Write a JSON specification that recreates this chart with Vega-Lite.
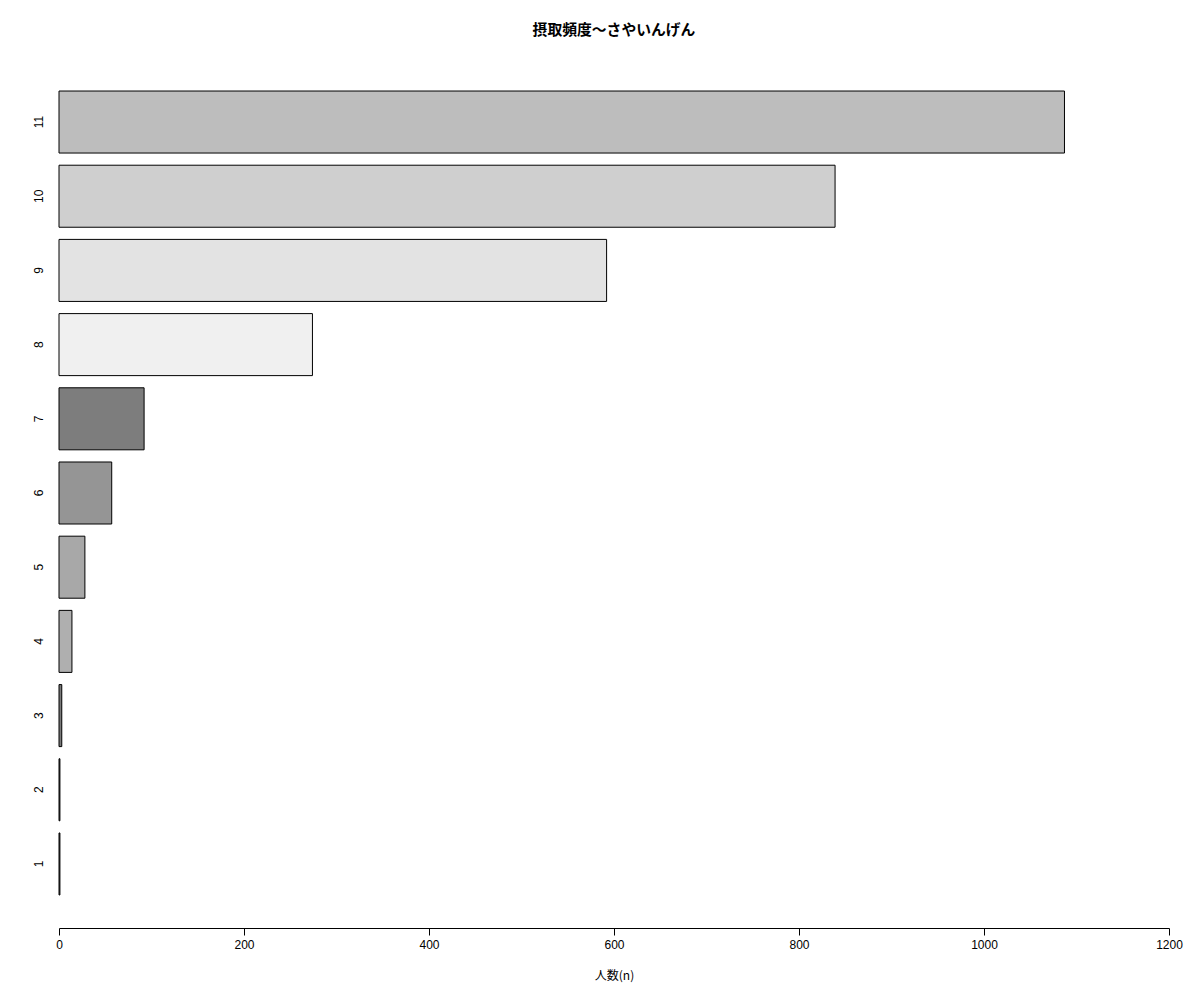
{
  "$schema": "https://vega.github.io/schema/vega-lite/v6.json",
  "autosize": "none",
  "width": 1110,
  "height": 870,
  "padding": {"left": 59, "top": 58, "right": 31, "bottom": 72},
  "background": "white",
  "config": {"view": {"stroke": null}},
  "title": {
    "text": "摂取頻度〜さやいんげん",
    "font": "Noto Sans CJK JP",
    "fontSize": 14.8,
    "fontWeight": "bold",
    "color": "black",
    "anchor": "middle",
    "offset": 20
  },
  "data": {
    "values": [
      {"k": "1", "n": 1},
      {"k": "2", "n": 1},
      {"k": "3", "n": 3},
      {"k": "4", "n": 14},
      {"k": "5", "n": 28},
      {"k": "6", "n": 57},
      {"k": "7", "n": 92},
      {"k": "8", "n": 274},
      {"k": "9", "n": 592},
      {"k": "10", "n": 839},
      {"k": "11", "n": 1087}
    ]
  },
  "mark": {"type": "bar", "stroke": "black", "strokeWidth": 1, "cornerRadius": 0},
  "encoding": {
    "y": {
      "field": "k",
      "type": "ordinal",
      "sort": ["11", "10", "9", "8", "7", "6", "5", "4", "3", "2", "1"],
      "scale": {"paddingInner": 0.164, "paddingOuter": 0.445},
      "axis": {
        "title": null,
        "domain": false,
        "ticks": false,
        "labelAngle": 270,
        "labelAlign": "center",
        "labelBaseline": "bottom",
        "labelPadding": 14,
        "labelFont": "Liberation Sans",
        "labelFontSize": 12,
        "labelColor": "black"
      }
    },
    "x": {
      "field": "n",
      "type": "quantitative",
      "scale": {"domain": [0, 1200], "nice": false, "zero": true},
      "axis": {
        "title": "人数(n)",
        "values": [0, 200, 400, 600, 800, 1000, 1200],
        "format": "d",
        "grid": false,
        "domainColor": "black",
        "tickColor": "black",
        "tickSize": 7,
        "labelFont": "Liberation Sans",
        "labelFontSize": 12,
        "labelColor": "black",
        "labelPadding": 4,
        "labelFlush": false,
        "titleFont": "Noto Sans CJK JP",
        "titleFontSize": 12,
        "titleFontWeight": "normal",
        "titleColor": "black",
        "titlePadding": 20
      }
    },
    "fill": {
      "field": "k",
      "type": "nominal",
      "scale": {
        "domain": ["1", "2", "3", "4", "5", "6", "7", "8", "9", "10", "11"],
        "range": ["#555555", "#555555", "#7a7a7a", "#afafaf", "#a8a8a8", "#959595", "#7d7d7d", "#f0f0f0", "#e3e3e3", "#cfcfcf", "#bdbdbd"]
      },
      "legend": null
    }
  }
}
